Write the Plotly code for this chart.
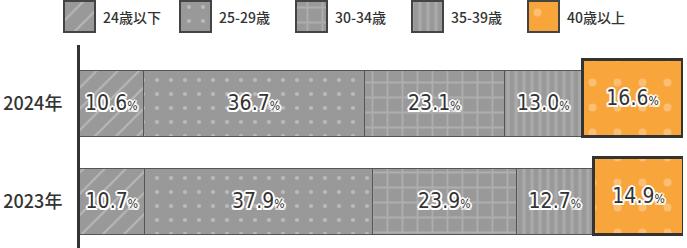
import plotly.graph_objects as go

# ---------------- data ----------------
years = ["2024年", "2023年"]
groups = ["24歳以下", "25-29歳", "30-34歳", "35-39歳", "40歳以上"]
v_under24 = [10.6, 10.7]
v_25_29 = [36.7, 37.9]
v_30_34 = [23.1, 23.9]
v_35_39 = [13.0, 12.7]
v_over40 = [16.6, 14.9]
series = [v_under24, v_25_29, v_30_34, v_35_39, v_over40]

# ---------------- style ----------------
W, H = 687, 248
GREY = "#999999"
ORANGE = "#F8A53B"
DARK = "#333333"
patterns = [
    dict(shape="/", fgcolor="#d6d6d6", bgcolor=GREY, size=15, solidity=0.14),
    dict(shape=".", fgcolor="#dcdcdc", bgcolor=GREY, size=14, solidity=0.07),
    dict(shape="+", fgcolor="#c4c4c4", bgcolor=GREY, size=15, solidity=0.22),
    dict(shape="|", fgcolor="#bcbcbc", bgcolor=GREY, size=8, solidity=0.4),
    dict(shape=".", fgcolor="#fdd8aa", bgcolor=ORANGE, size=25, solidity=0.08),
]
colors = [GREY, GREY, GREY, GREY, ORANGE]
outline = ("2px 0 0 #fff, -2px 0 0 #fff, 0 2px 0 #fff, 0 -2px 0 #fff, "
           "1.5px 1.5px 0 #fff, -1.5px -1.5px 0 #fff, 1.5px -1.5px 0 #fff, -1.5px 1.5px 0 #fff")
NUMFONT = "Liberation Sans Narrow, DejaVu Sans Condensed, sans-serif"
JPFONT = "Noto Sans CJK JP, sans-serif"

fig = go.Figure()
ypos = list(range(len(years)))
for i, (name, vals) in enumerate(zip(groups, series)):
    last = i == len(groups) - 1
    fig.add_trace(go.Bar(
        x=vals, y=ypos, orientation="h", name=name, showlegend=False,
        xaxis="x", yaxis="y",
        width=0.786 if last else 0.673,
        offset=-0.449 if last else -0.3365,
        marker=dict(color=colors[i], pattern=patterns[i],
                    line=dict(color=DARK if last else "#555555", width=3 if last else 1.5)),
        text=[f"{v:.1f}<span style='font-size:12px'>%</span>" for v in vals],
        textposition="inside", insidetextanchor="middle", textangle=0,
        constraintext="none",
        textfont=dict(family=NUMFONT, size=21, color=DARK, shadow=outline),
        hoverinfo="skip",
    ))

# custom legend (pixel axes at top)
leg_x0, leg_step, sw = 79, 116.2, 31
for i, name in enumerate(groups):
    cx = leg_x0 + i * leg_step
    fig.add_trace(go.Bar(
        x=[cx], y=[sw], base=[1], width=[sw], xaxis="x2", yaxis="y2",
        showlegend=False, hoverinfo="skip",
        marker=dict(color=colors[i], pattern=patterns[i], line=dict(color="#444444", width=2)),
    ))
    fig.add_annotation(x=cx + sw / 2 + 6, y=17, xref="x2", yref="y2", text=name,
                       showarrow=False, xanchor="left", yanchor="middle",
                       font=dict(family=JPFONT, size=14, color=DARK, weight=500))

fig.update_layout(
    width=W, height=H, margin=dict(l=0, r=0, t=0, b=0),
    paper_bgcolor="white", plot_bgcolor="white",
    barmode="stack", bargap=0,
    xaxis=dict(domain=[80 / W, 683 / W], range=[0, 100], visible=False, fixedrange=True),
    yaxis=dict(domain=[0, 203 / H], range=[1.469, -0.602], tickvals=ypos, ticktext=years,
               showline=True, linecolor=DARK, linewidth=3, showgrid=False, zeroline=False,
               ticks="outside", ticklen=11, tickcolor="rgba(0,0,0,0)", automargin=False,
               tickfont=dict(family=JPFONT, size=18, color=DARK, weight=500)),
    xaxis2=dict(domain=[0, 1], range=[0, W], visible=False, anchor="y2"),
    yaxis2=dict(domain=[1 - 36 / H, 1], range=[36, 0], visible=False, anchor="x2"),
    showlegend=False,
)
fig.write_html("out.html")
